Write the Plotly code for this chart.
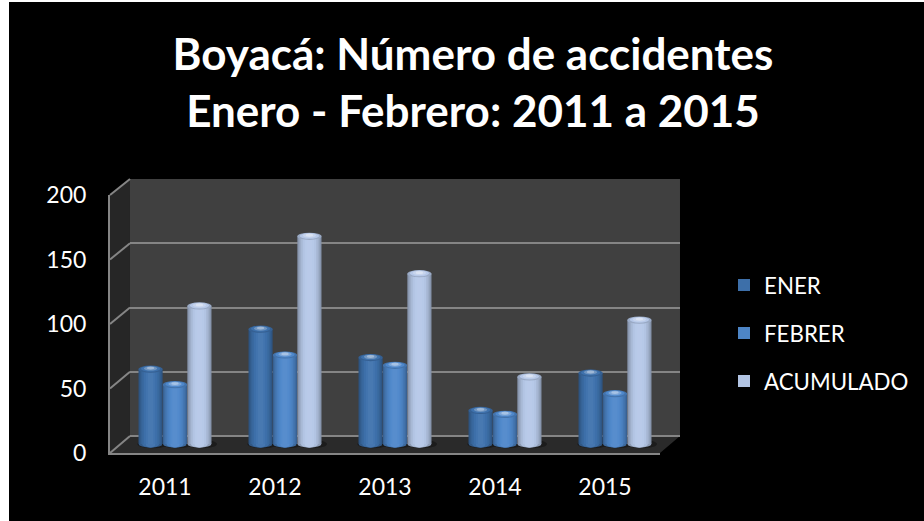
import plotly.graph_objects as go

W, H = 924, 521
years = ["2011", "2012", "2013", "2014", "2015"]
ener = [58, 89, 67, 26, 55]
febrer = [46, 69, 61, 23, 39]
acumulado = [107, 161, 132, 52, 96]
y_ticks = [0, 50, 100, 150, 200]
series_names = ["ENER", "FEBRER", "ACUMULADO"]
series_base = ["#3f72ad", "#4f88cb", "#b6c8e8"]
FONT = "Lato"
LINE = "#858585"

def px(x): return x / W
def py(y): return 1 - y / H

def shade(hex_c, f):
    r, g, b = (int(hex_c[i:i + 2], 16) for i in (1, 3, 5))
    if f <= 1:
        return f"rgb({int(r*f)},{int(g*f)},{int(b*f)})"
    return f"rgb({min(255,int(r+(255-r)*(f-1)))},{min(255,int(g+(255-g)*(f-1)))},{min(255,int(b+(255-b)*(f-1)))})"

def poly(pts, fill):
    path = "M " + " L ".join(f"{px(x):.5f},{py(y):.5f}" for x, y in pts) + " Z"
    return dict(type="path", path=path, xref="paper", yref="paper",
                fillcolor=fill, line=dict(width=0), layer="below")

fig = go.Figure()

fig.add_trace(go.Scatter(x=years, y=y_ticks, mode="markers", marker=dict(opacity=0),
                         showlegend=False, hoverinfo="skip", xaxis="x", yaxis="y"))
fig.add_trace(go.Scatter(x=years, y=y_ticks, mode="markers", marker=dict(opacity=0),
                         showlegend=False, hoverinfo="skip", xaxis="x2", yaxis="y2"))

bar_w = 0.222
layers = [(0.99, 0.72), (0.90, 0.80), (0.80, 0.87), (0.68, 0.93), (0.54, 0.98), (0.38, 1.02), (0.22, 1.05)]
shapes = []
back = (130, 680, 436, 179)
front = (110, 660, 453, 195)
shapes.append(poly([(130, 179), (680, 179), (680, 436), (130, 436)], "#404040"))
shapes.append(poly([(110, 195), (130, 179), (130, 436), (110, 453)], "#262626"))
shapes.append(poly([(110, 453), (130, 436), (680, 436), (660, 453)], "#2a2a2a"))

for t in y_ticks:
    yb = 436 - (436 - 179) * t / 200
    yf = 453 - (453 - 195) * t / 200
    shapes.append(dict(type="line", xref="paper", yref="paper", x0=px(110), x1=px(130),
                       y0=py(yf), y1=py(yb), line=dict(color=LINE, width=2), layer="below"))

CAP = 2.8
for j, (name, vals, base) in enumerate(zip(series_names, [ener, febrer, acumulado], series_base)):
    c = (j - 1) * bar_w
    for k, (frac, f) in enumerate(layers):
        w = bar_w * frac
        fig.add_trace(go.Bar(x=years, y=vals, width=w, offset=c - w / 2, name=name,
                             marker=dict(color=shade(base, f), line=dict(width=0)),
                             legendgroup=name, showlegend=(k == 4),
                             xaxis="x3", yaxis="y3", hovertemplate=f"{name} %{{x}}: %{{y}}<extra></extra>"))
    for i, v in enumerate(vals):
        x0, x1 = i + c - bar_w * 0.495, i + c + bar_w * 0.495
        mid = (x0 + x1) / 2
        hw = (x1 - x0) / 2
        shapes.append(dict(type="circle", xref="x3", yref="y3", x0=x0 - 0.01, x1=x1 + 0.05,
                           y0=-CAP * 1.2, y1=CAP * 1.2, fillcolor="#1c1c1c", line=dict(width=0), layer="below"))
        for frac, f in [(0.99, 0.78), (0.7, 0.95), (0.4, 1.04)]:
            shapes.append(dict(type="circle", xref="x3", yref="y3", x0=mid - hw * frac, x1=mid + hw * frac,
                               y0=-CAP, y1=CAP, fillcolor=shade(base, f), line=dict(width=0), layer="below"))
        for frac, f, lo, hi in [(1.0, 0.85, -1, 1), (0.8, 1.0, -0.7, 0.9), (0.55, 1.25, -0.4, 0.8), (0.3, 1.5, -0.1, 0.7)]:
            shapes.append(dict(type="circle", xref="x3", yref="y3", x0=mid - hw * frac, x1=mid + hw * frac,
                               y0=v + CAP * lo, y1=v + CAP * hi,
                               fillcolor=shade(base, f), line=dict(width=0), layer="above"))

shapes.append(dict(type="rect", xref="paper", yref="paper", x0=0, x1=px(9), y0=0, y1=1,
                   fillcolor="white", line=dict(width=0), layer="above"))
shapes.append(dict(type="rect", xref="paper", yref="paper", x0=0, x1=1, y0=py(2), y1=1,
                   fillcolor="white", line=dict(width=0), layer="above"))

hidden = dict(showgrid=False, zeroline=False, showticklabels=False, ticks="", showline=False)
cat_range = [-0.5, 4.5]
y3_min = -8
y3_bottom = 444 + (444 - 186) / 200 * (-y3_min)
layout = dict(
    width=W, height=H, margin=dict(l=0, r=0, t=0, b=0, autoexpand=False),
    paper_bgcolor="black", plot_bgcolor="rgba(0,0,0,0)",
    barmode="overlay", shapes=shapes,
    font=dict(family=FONT, color="white", size=23),
    title=dict(text="Boyacá: Número de accidentes<br>Enero - Febrero: 2011 a 2015",
               x=473 / W, xanchor="center", y=py(70), yanchor="top",
               font=dict(family=FONT, size=44, color="white", weight="bold")),
    legend=dict(x=px(724), y=py(264), xanchor="left", yanchor="top", bgcolor="rgba(0,0,0,0)",
                font=dict(family=FONT, size=22.3, color="white"), tracegroupgap=16,
                itemwidth=30, traceorder="grouped"),
    xaxis=dict(domain=[px(back[0]), px(back[1])], anchor="y", type="category", categoryarray=years,
               range=cat_range, **hidden),
    yaxis=dict(domain=[py(back[2]), py(back[3])], anchor="x", range=[0, 200], tickvals=y_ticks,
               showgrid=True, gridcolor=LINE, gridwidth=2, zeroline=True, zerolinecolor=LINE, zerolinewidth=2,
               showticklabels=False, ticks=""),
    xaxis2=dict(domain=[px(front[0]), px(front[1])], anchor="y2", type="category", categoryarray=years,
                range=cat_range, showgrid=False, zeroline=False, showline=True, linecolor=LINE, linewidth=2,
                ticks="", ticklabelstandoff=12, tickfont=dict(size=23)),
    yaxis2=dict(domain=[py(front[2]), py(front[3])], anchor="x2", range=[0, 200], tickvals=y_ticks,
                showgrid=False, zeroline=False, showline=True, linecolor=LINE, linewidth=2,
                ticks="", ticklabelstandoff=17, tickfont=dict(size=23)),
    xaxis3=dict(domain=[px(120), px(670)], anchor="y3", type="category", categoryarray=years,
                range=cat_range, **hidden),
    yaxis3=dict(domain=[py(y3_bottom), py(186)], anchor="x3", range=[y3_min, 200], **hidden),
)
fig.update_layout(**layout)
fig.write_html("out.html", config={"displayModeBar": False}, post_script="document.body.style.margin='0';")
